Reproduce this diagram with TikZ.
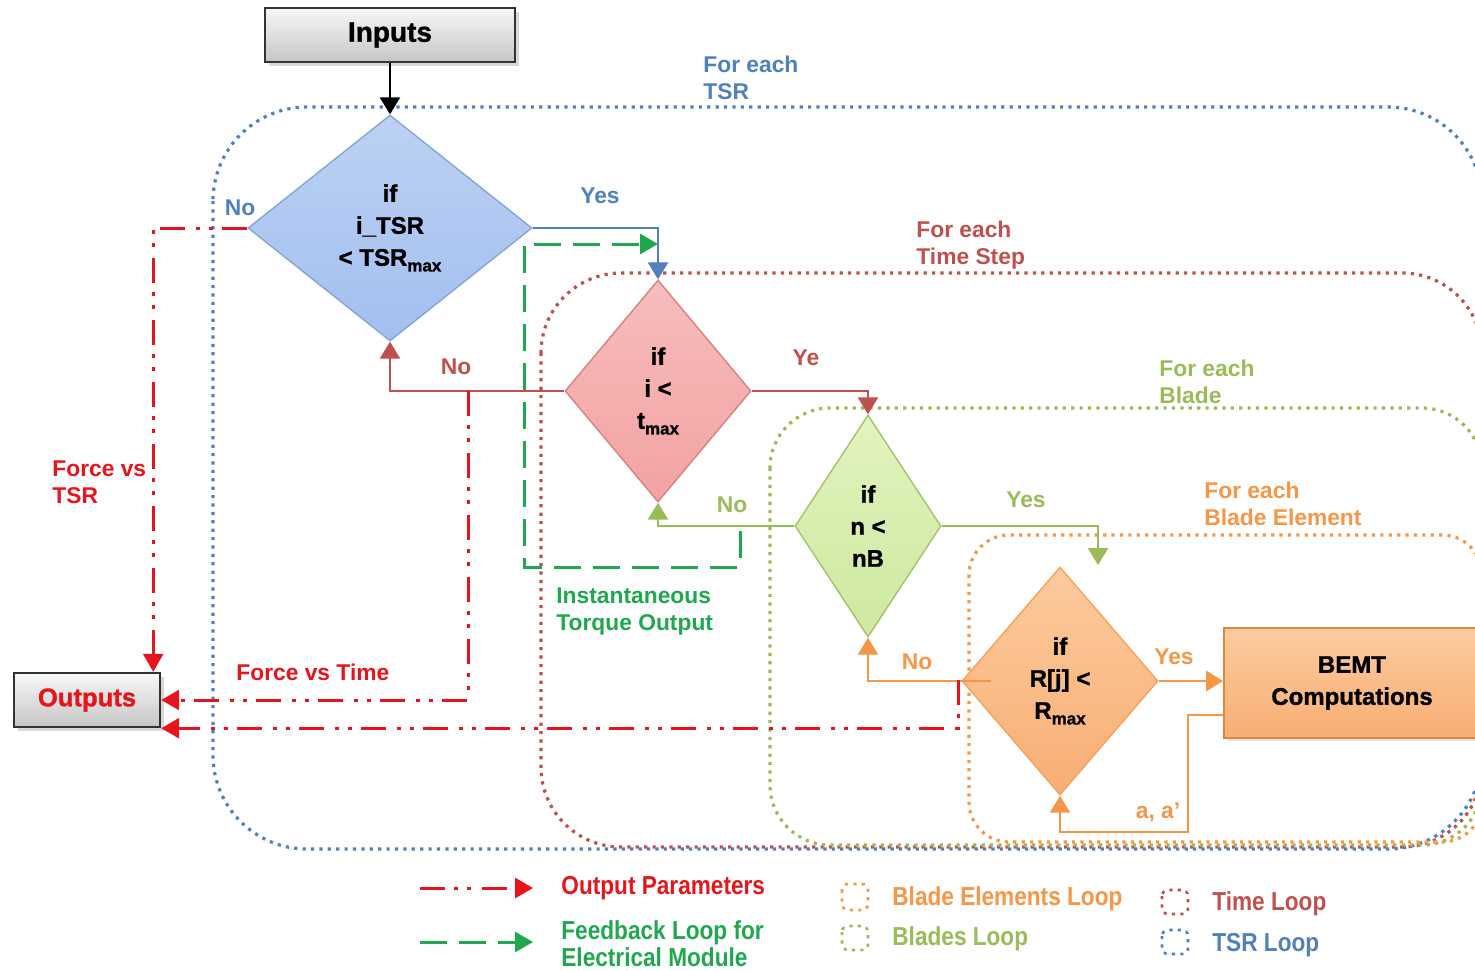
\documentclass[tikz,border=0pt]{standalone}
\usepackage{fontspec}
\setmainfont{Liberation Sans}
\newfontfamily\legendfont[FakeStretch=0.87]{Liberation Sans}
\newfontfamily\heavyfont[BoldFeatures={FakeBold=1.2}]{Liberation Sans}
\usetikzlibrary{arrows.meta,shapes.geometric,shadows,calc}

\definecolor{tsrblue}{HTML}{4F81BD}
\definecolor{timered}{HTML}{C0504D}
\definecolor{bladegreen}{HTML}{9BBB59}
\definecolor{elemorange}{HTML}{F79646}
\definecolor{outred}{HTML}{E8141B}
\definecolor{fbgreen}{HTML}{1FA84E}
\definecolor{blueA}{HTML}{BCD1F4}
\definecolor{blueB}{HTML}{A3BFEF}
\definecolor{pinkA}{HTML}{F7BDBD}
\definecolor{pinkB}{HTML}{F3A2A2}
\definecolor{limeA}{HTML}{E2F4BE}
\definecolor{limeB}{HTML}{CDE8A0}
\definecolor{peachA}{HTML}{FCCB9E}
\definecolor{peachB}{HTML}{F8AE74}

\newcommand{\submax}{\raisebox{-0.45ex}{\fontsize{8.5}{9}\selectfont max}}

\begin{document}
\begin{tikzpicture}[x=0.5pt,y=-0.5pt,
  looppath/.style={line width=1.6pt, dash pattern=on 1.6pt off 2.6pt},
  flow/.style={line width=1.3pt, -{Triangle[width=10pt,length=8.5pt]}},
  outflow/.style={line width=1.5pt, outred,
    dash pattern=on 12.5pt off 4.5pt on 2pt off 4.5pt on 2pt off 5.5pt,
    -{Triangle[width=10pt,length=9pt]}},
  fbflow/.style={line width=1.5pt, fbgreen, dash pattern=on 13.5pt off 6pt,
    -{Triangle[width=10pt,length=9pt]}},
  lbl/.style={font=\fontsize{11.4}{13.5}\selectfont\bfseries, align=left,
    anchor=west, inner sep=0pt},
  leg/.style={font=\legendfont\fontsize{13}{13.5}\selectfont\bfseries, align=left,
    anchor=west, inner sep=0pt},
  cond/.style={shape=diamond, inner sep=0pt, align=center, line width=0.7pt,
    font=\heavyfont\fontsize{12}{16}\selectfont\bfseries},
  grbox/.style={draw=black!80, line width=1.2pt, top color=gray!6,
    bottom color=gray!45, inner sep=0pt,
    drop shadow={shadow xshift=2pt, shadow yshift=-2pt, opacity=0.3}},
]
\clip (0,0) rectangle (1475,970);
\fill[white] (0,0) rectangle (1475,970);

% ---------- loop frames ----------
\draw[looppath, tsrblue, rounded corners=47pt] (213,107) rectangle (1482,849);
\draw[looppath, timered, rounded corners=40pt] (541,273) rectangle (1482,847);
\draw[looppath, bladegreen, rounded corners=30pt] (770,408) rectangle (1482,845);
\draw[looppath, elemorange, rounded corners=20pt] (969,535) rectangle (1482,842);

% ---------- loop captions ----------
\node[lbl, text=tsrblue] (capTSR) at (703,78) {For each\\TSR};
\node[lbl, text=timered] (capTime) at (916,245) {For each\\Time Step};
\node[lbl, text=bladegreen] (capBlade) at (1159,382) {For each\\Blade};
\node[lbl, text=elemorange] (capElem) at (1204,504) {For each\\Blade Element};

% ---------- boxes ----------
\node[grbox, minimum width=125pt, minimum height=27pt,
  font=\heavyfont\fontsize{14}{16}\selectfont\bfseries] (in) at (390,35) {Inputs};
\node[grbox, minimum width=73pt, minimum height=27pt, text=outred,
  font=\heavyfont\fontsize{12.8}{15}\selectfont\bfseries] (out) at (87,700) {Outputs};
\node[draw=elemorange!90!black, line width=0.8pt, top color=peachA,
  bottom color=peachB, minimum width=128pt, minimum height=55pt,
  align=center, inner sep=0pt, font=\heavyfont\fontsize{12}{16}\selectfont\bfseries,
  drop shadow={shadow xshift=1.5pt, shadow yshift=-1.5pt, opacity=0.2}]
  (bemt) at (1352,683) {BEMT\\Computations};

% ---------- decisions ----------
\node[cond, draw=tsrblue!70, top color=blueA, bottom color=blueB,
  minimum width=142pt, minimum height=113pt] (d1) at (390,228)
  {if\\i\_TSR\\< TSR\submax};
\node[cond, draw=timered!70, top color=pinkA, bottom color=pinkB,
  minimum width=93pt, minimum height=111pt] (d2) at (658,391)
  {if\\i <\\t\submax};
\node[cond, draw=bladegreen!90, top color=limeA, bottom color=limeB,
  minimum width=73pt, minimum height=111pt] (d3) at (868,526)
  {if\\n <\\nB};
\node[cond, draw=elemorange!90, top color=peachA, bottom color=peachB,
  minimum width=98pt, minimum height=114pt] (d4) at (1060,681)
  {if\\R[j] <\\R\submax};

% ---------- branch points ----------
\coordinate (tapTime) at (468,391);
\coordinate (tapElem) at (958,680);
\coordinate (elemIn) at (1098,565);
\coordinate (fbStart) at (740,531);
\coordinate (fbCorner) at (524,567);
\coordinate (fbEnd) at (658,244);
\coordinate (aaCorner) at (1188,832);

% ---------- main flow ----------
\draw[flow, black] (in.south) -- (d1.north);
\draw[flow, tsrblue] (d1.east) -| (d2.north);
\draw[flow, timered] (d2.west) -| (d1.south);
\draw[flow, timered] (d2.east) -| (d3.north);
\draw[flow, bladegreen] (d3.west) -| (d2.south);
\draw[flow, bladegreen] (d3.east) -| (elemIn);
\draw[flow, elemorange] ($(d4.west)+(30,0)$) -| (d3.south);
\draw[flow, elemorange] (d4.east) -- (d4.east -| bemt.west);
\draw[flow, elemorange] ($(bemt.west)+(0,32)$) -| (aaCorner) -| (d4.south);

% ---------- outputs ----------
\draw[outflow] (d1.west) -| ($(out.north east)+(-8,0)$);
\draw[outflow] (tapTime) |- (out.east);
\draw[outflow] (tapElem) |- (out.south east);

% ---------- electrical feedback ----------
\draw[fbflow] (fbStart) |- (fbCorner) |- (fbEnd);

% ---------- branch labels ----------
\node[lbl, anchor=center, text=tsrblue] (noTSR) at (240,208) {No};
\node[lbl, anchor=center, text=tsrblue] (yesTSR) at (600,196) {Yes};
\node[lbl, anchor=center, text=timered] (noTime) at (456,367) {No};
\node[lbl, anchor=center, text=timered] (yesTime) at (806,358) {Ye};
\node[lbl, anchor=center, text=bladegreen] (noBlade) at (732,505) {No};
\node[lbl, anchor=center, text=bladegreen] (yesBlade) at (1026,500) {Yes};
\node[lbl, anchor=center, text=elemorange] (noElem) at (917,662) {No};
\node[lbl, anchor=center, text=elemorange] (yesElem) at (1174,657) {Yes};
\node[lbl, anchor=center, text=elemorange] (aaLbl) at (1158,812) {a, a'};
\node[lbl, text=outred] (fTSR) at (52,482) {Force vs\\TSR};
\node[lbl, text=outred] (fTime) at (236,672) {Force vs Time};
\node[lbl, text=fbgreen] (torque) at (556,612) {Instantaneous\\Torque Output};

% ---------- legend ----------
\coordinate (legR0) at (420,888);
\coordinate (legR1) at (533,888);
\coordinate (legG0) at (420,942);
\coordinate (legG1) at (533,942);
\draw[outflow] (legR0) -- (legR1);
\draw[fbflow] (legG0) -- (legG1);
\node[leg, text=outred] (legOut) at (561,888) {Output Parameters};
\node[leg, text=fbgreen] (legFb) at (561,944) {Feedback Loop for\\Electrical Module};

\draw[looppath, elemorange, line width=1.3pt, rounded corners=3pt] (842,884) rectangle (868,910);
\draw[looppath, bladegreen, line width=1.3pt, rounded corners=3pt] (842,926) rectangle (868,950);
\draw[looppath, timered, line width=1.3pt, rounded corners=3pt] (1162,890) rectangle (1188,914);
\draw[looppath, tsrblue, line width=1.3pt, rounded corners=3pt] (1162,930) rectangle (1188,954);
\node[leg, text=elemorange] (legElem) at (892,899) {Blade Elements Loop};
\node[leg, text=bladegreen] (legBlade) at (892,939) {Blades Loop};
\node[leg, text=timered] (legTime) at (1212,904) {Time Loop};
\node[leg, text=tsrblue] (legTSR) at (1212,945) {TSR Loop};
\end{tikzpicture}
\end{document}
